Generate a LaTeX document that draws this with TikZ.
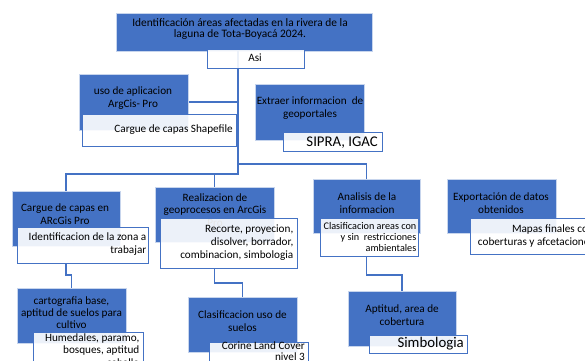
\documentclass[tikz,border=0pt]{standalone}
\usepackage{fontspec}
\setmainfont{Carlito}
\definecolor{blu}{HTML}{4472C4}
\begin{document}
\begin{tikzpicture}[x=1pt,y=-1pt,
  bbox/.style={draw=white!70!blu, line width=0.6pt, fill=blu, inner sep=0pt, outer sep=0pt, anchor=north west},
  sbox/.style={draw=blu, line width=1pt, fill=white, fill opacity=0.9, inner sep=0pt, outer sep=0pt, anchor=north west},
  conn/.style={draw=blu, line width=1.3pt},
  btxt/.style={inner sep=0pt, align=center, text=black, font=\fontsize{11.2}{12.3}\selectfont},
  stxt/.style={inner sep=0pt, align=right, anchor=east, text=black, font=\fontsize{11.2}{12.3}\selectfont},
  bigtxt/.style={inner sep=0pt, anchor=east, text=black, font=\fontsize{14.8}{16}\selectfont}]
\useasboundingbox (0,0) rectangle (585,360);
\clip (0,0) rectangle (585,360);
\fill[white] (0,0) rectangle (585,360);

% junction coordinates
\coordinate (hA) at (238,174);
\coordinate (hB) at (238,164);

\node[bbox, minimum width=256pt, minimum height=38pt] (title) at (116,13) {};
\node[btxt, font=\fontsize{11.4}{11}\selectfont] (title-t) at (240,28.8) {Identificación áreas afectadas en la rivera de la\\laguna de Tota-Boyacá 2024.};

% connectors
\draw[conn] (hA |- title.south) -- (hA) -| (66,191);
\draw[conn] (hA -| 214.5,0) -- (214.5,187);
\draw[conn] (hB) -| (366.5,179);
\draw[conn] (188,102) -- (238,102);
\draw[conn] (66,263) -- ++(0,12) -| (71.5,288);
\draw[conn] (214.5,268) -- ++(0,15) -| (242.5,297);
\draw[conn] (366.5,256) -- ++(0,19) -| (402,291);

\node[sbox, minimum width=97pt, minimum height=19pt] (asi) at (207,49) {};
\node[btxt] (asi-t) at (255,57.5) {Asi};

\node[bbox, minimum width=109pt, minimum height=56pt] (uso) at (79,74) {};
\node[btxt] (uso-t) at (133,98) {uso de aplicacion\\ArgCis- Pro};
\node[sbox, minimum width=154pt, minimum height=32pt] (usosub) at (82,114) {};
\node[stxt] (usosub-t) at (233,130) {Cargue de capas Shapefile};

\node[bbox, minimum width=109pt, minimum height=56pt] (extraer) at (255,84) {};
\node[btxt] (extraer-t) at (310,108) {Extraer informacion\ \ de\\geoportales};
\node[sbox, minimum width=99pt, minimum height=19pt] (extraersub) at (283,132) {};
\node[bigtxt] (extraersub-t) at (378,142.5) {SIPRA, IGAC};

\node[bbox, minimum width=108pt, minimum height=55pt] (cargue) at (12,191) {};
\node[btxt, font=\fontsize{11.2}{13}\selectfont] (cargue-t) at (65,214.5) {Cargue de capas en\\ARcGis Pro};
\node[sbox, minimum width=131pt, minimum height=36pt] (carguesub) at (17,227) {};
\node[stxt] (carguesub-t) at (146.5,244) {Identificacion de la zona a\\trabajar};

\node[bbox, minimum width=119pt, minimum height=55pt] (realiz) at (155,187) {};
\node[btxt, font=\fontsize{11.2}{12.8}\selectfont] (realiz-t) at (215,210) {Realizacion de\\geoprocesos en ArcGis\\Pro};
\node[sbox, minimum width=137pt, minimum height=50pt] (realizsub) at (160,218) {};
\node[stxt, font=\fontsize{11.2}{13}\selectfont] (realizsub-t) at (293.5,243) {Recorte, proyecion,\\disolver, borrador,\\combinacion, simbologia};

\node[bbox, minimum width=107pt, minimum height=54pt] (analisis) at (313,179) {};
\node[btxt] (analisis-t) at (367,203) {Analisis de la\\informacion};
\node[sbox, minimum width=98pt, minimum height=38pt] (analisissub) at (320,218) {};
\node[stxt, font=\fontsize{10.2}{11}\selectfont] (analisissub-t) at (416.5,237) {Clasificacion areas con\\y sin\ \ restricciones\\ambientales};

\node[bbox, minimum width=109pt, minimum height=54pt] (export) at (447,179) {};
\node[btxt] (export-t) at (501,203) {Exportación de datos\\obtenidos};
\node[sbox, minimum width=130pt, minimum height=36pt] (exportsub) at (470,218) {};
\node[stxt] (exportsub-t) at (594,236) {Mapas finales con\\coberturas y afcetaciones};

\node[bbox, minimum width=109pt, minimum height=55pt] (carto) at (17,288) {};
\node[btxt] (carto-t) at (71.5,312.7) {cartografia base,\\aptitud de suelos para\\cultivo};
\node[sbox, minimum width=110pt, minimum height=40pt] (cartosub) at (33,332) {};
\node[stxt] (cartosub-t) at (139.5,350) {Humedales, paramo,\\bosques, aptitud\\caballo};

\node[bbox, minimum width=109pt, minimum height=55pt] (clasif) at (188,297) {};
\node[btxt] (clasif-t) at (242.5,321) {Clasificacion uso de\\suelos};
\node[sbox, minimum width=99pt, minimum height=28pt] (clasifsub) at (209,342) {};
\node[stxt, font=\fontsize{11.2}{10.5}\selectfont] (clasifsub-t) at (305,351) {Corine Land Cover\\nivel 3};

\node[bbox, minimum width=108pt, minimum height=55pt] (aptitud) at (348,291) {};
\node[btxt, font=\fontsize{11.2}{13.5}\selectfont] (aptitud-t) at (402,315) {Aptitud, area de\\cobertura};
\node[sbox, minimum width=98pt, minimum height=18pt] (aptitudsub) at (369,335) {};
\node[bigtxt] (aptitudsub-t) at (464,344) {Simbologia};
\end{tikzpicture}
\end{document}
